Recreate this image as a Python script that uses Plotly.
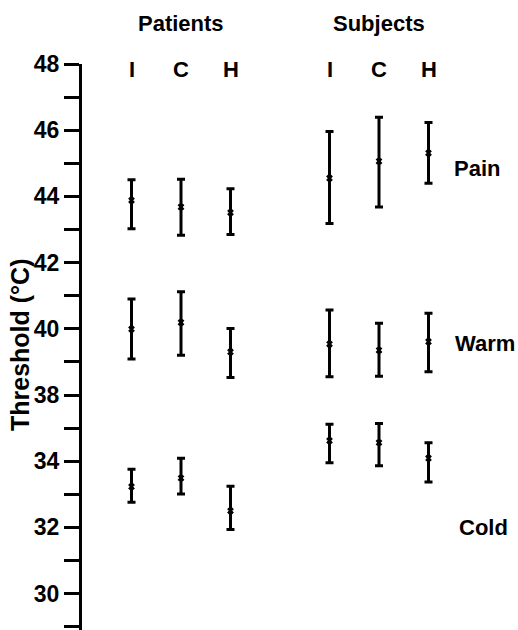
import plotly.graph_objects as go

# ---- data (thresholds in °C) ----
conditions = ["I", "C", "H"]
groups = ["Patients", "Subjects"]
modalities = ["Pain", "Warm", "Cold"]

patients_pain_mean = [43.88, 43.68, 43.51]
patients_pain_upper = [44.50, 44.52, 44.23]
patients_pain_lower = [43.02, 42.83, 42.85]
patients_warm_mean = [39.99, 40.19, 39.30]
patients_warm_upper = [40.90, 41.12, 40.01]
patients_warm_lower = [39.09, 39.20, 38.53]
patients_cold_mean = [33.23, 33.49, 32.50]
patients_cold_upper = [33.76, 34.09, 33.24]
patients_cold_lower = [32.76, 33.01, 31.94]

subjects_pain_mean = [44.55, 45.06, 45.31]
subjects_pain_upper = [45.96, 46.39, 46.23]
subjects_pain_lower = [43.18, 43.68, 44.40]
subjects_warm_mean = [39.54, 39.35, 39.61]
subjects_warm_upper = [40.57, 40.17, 40.47]
subjects_warm_lower = [38.55, 38.57, 38.70]
subjects_cold_mean = [34.62, 34.56, 34.09]
subjects_cold_upper = [35.12, 35.14, 34.56]
subjects_cold_lower = [33.95, 33.86, 33.37]

tick_labels = [48, 46, 44, 42, 40, 38, 34, 32, 30]

# ---- broken-axis scale: values below the break are shifted up by 2 ----
def pos(v):
    return v if v >= 37 else v + 2

series = {
    "Patients": [
        (patients_pain_mean, patients_pain_upper, patients_pain_lower),
        (patients_warm_mean, patients_warm_upper, patients_warm_lower),
        (patients_cold_mean, patients_cold_upper, patients_cold_lower),
    ],
    "Subjects": [
        (subjects_pain_mean, subjects_pain_upper, subjects_pain_lower),
        (subjects_warm_mean, subjects_warm_upper, subjects_warm_lower),
        (subjects_cold_mean, subjects_cold_upper, subjects_cold_lower),
    ],
}

FONT = "Liberation Sans"
W, H = 518, 630
AXIS_X, AXIS_TOP = 82, 64         # page pixels
ML, MR, MT, MB = AXIS_X, 0, AXIS_TOP, 0
plot_h = H - MT - MB
plot_w = W - ML - MR
y_top = 48
px_per_unit = 33.1
y_bot = y_top - plot_h / px_per_unit
x_unit = 49.5
x_max = plot_w / x_unit

fig = go.Figure()

for gi, g in enumerate(groups):
    xs = [gi * 4 + 1 + ci for ci in range(len(conditions))]
    for (mean, up, lo) in series[g]:
        ym = [pos(m) for m in mean]
        fig.add_trace(go.Scatter(
            x=xs, y=ym, mode="markers",
            marker=dict(symbol="x", size=6, color="black"),
            error_y=dict(type="data", symmetric=False,
                         array=[pos(u) - pos(m) for u, m in zip(up, mean)],
                         arrayminus=[pos(m) - pos(l) for m, l in zip(mean, lo)],
                         color="black", thickness=3, width=4),
            showlegend=False, cliponaxis=False,
        ))

tickvals = list(range(31, 49))
label_pos = {pos(t): str(t) for t in tick_labels}
ticktext = [label_pos.get(v, "") for v in tickvals]

fig.update_layout(
    width=W, height=H,
    margin=dict(l=ML, r=MR, t=MT, b=MB, autoexpand=False),
    paper_bgcolor="white", plot_bgcolor="white",
    font=dict(family=FONT, color="black", size=22),
    xaxis=dict(range=[0, x_max], visible=False),
    yaxis=dict(range=[y_bot, y_top], showgrid=False, zeroline=False,
               showline=True, linecolor="black", linewidth=3,
               ticks="outside", ticklen=15, tickwidth=3, tickcolor="black",
               tickvals=tickvals, ticktext=ticktext,
               tickfont=dict(family=FONT, size=23, color="black", weight="bold")),
)

annots = []
for gi, g in enumerate(groups):
    annots.append(dict(x=gi * 4 + 2, y=1 + (AXIS_TOP - 24) / plot_h, xref="x", yref="paper",
                       text=g, showarrow=False, xanchor="center", yanchor="middle",
                       font=dict(size=22, weight="bold")))
    for ci, c in enumerate(conditions):
        annots.append(dict(x=gi * 4 + 1 + ci, y=y_top - 5 / px_per_unit, xref="x", yref="y",
                           text=c, showarrow=False, xanchor="center", yanchor="middle",
                           font=dict(size=22, weight="bold")))

label_y = {"Pain": 168, "Warm": 343, "Cold": 527}
label_x = {"Pain": 452, "Warm": 453, "Cold": 457}
for m in modalities:
    annots.append(dict(x=(label_x[m] - AXIS_X) / x_unit, y=1 - (label_y[m] - AXIS_TOP) / plot_h,
                       xref="x", yref="paper", text=m, showarrow=False,
                       xanchor="left", yanchor="middle",
                       font=dict(size=22, weight="bold")))

annots.append(dict(x=-(AXIS_X - 20) / plot_w, y=1 - (345 - AXIS_TOP) / plot_h,
                   xref="paper", yref="paper", text="Threshold (°C)", textangle=-90,
                   showarrow=False, xanchor="center", yanchor="middle",
                   font=dict(size=25, weight="bold")))

fig.update_layout(annotations=annots)
fig.write_html("out.html", config={"displayModeBar": False},
               post_script="document.body.style.margin='0';document.body.style.overflow='hidden';")
